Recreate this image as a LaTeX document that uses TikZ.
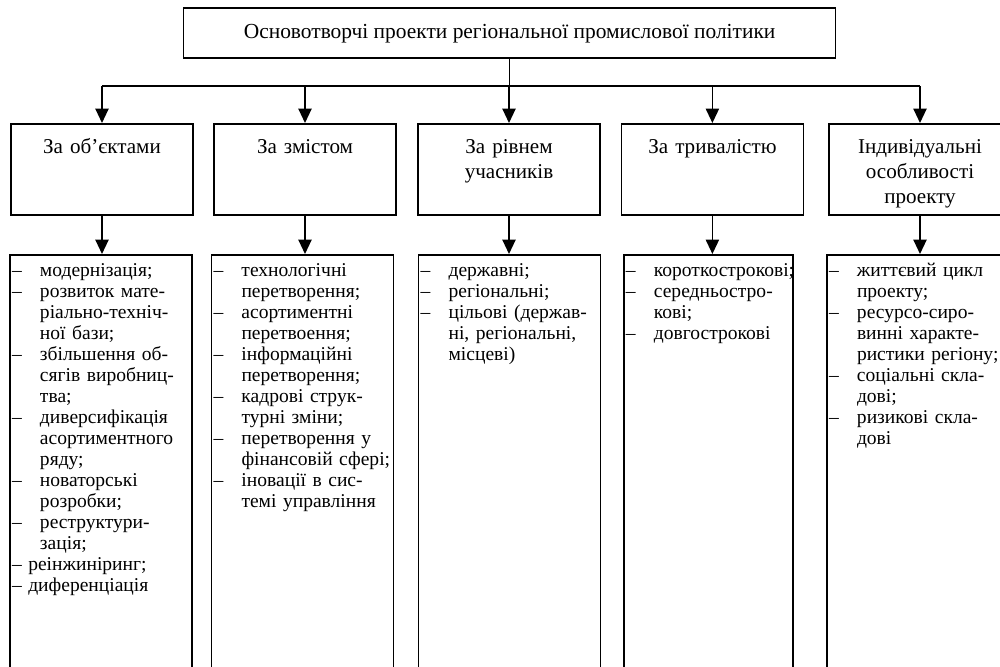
\documentclass[tikz,border=0pt]{standalone}
\usepackage{fontspec}
\setmainfont{Liberation Serif}
\usepackage{tikz}
\usetikzlibrary{arrows.meta}
\tikzset{
  topbox/.style={draw,line width=1.2pt,minimum width=16.3cm,minimum height=1.25cm,inner sep=0pt,font=\fontsize{15.25}{17}\selectfont},
  catbox/.style={draw,line width=1.2pt,anchor=north,minimum width=4.55cm,text width=4.3cm,align=center,inner xsep=0.1cm,inner ysep=0.4cm,text height=0.35cm,text depth=1.125cm,font=\fontsize{15}{17.8}\selectfont},
  listbox/.style={draw,line width=1.2pt,anchor=north,text width=4.45cm,align=left,inner xsep=0.05cm,inner ysep=0.2cm,text height=0.35cm,text depth=11cm,font=\fontsize{13.9}{14.9}\selectfont},
  downarrow/.style={line width=1.2pt,-{Triangle[length=0.36cm,width=0.33cm]}}
}
% list items: dash with hanging text, or dash with a plain space
\newcommand{\itm}[1]{\hangindent=0.7cm\hangafter=1\noindent\makebox[0.7cm][l]{--}#1\par}
\newcommand{\itmb}[1]{\noindent --\ #1\par}

\begin{document}
\begin{tikzpicture}
    \useasboundingbox (0,0) rectangle (25,-16.65);
    \node[topbox] (top) at (12.74,-0.83) {Основотворчі проекти регіональної промислової політики};
    \coordinate (bus) at (0,-2.15);
    % categories
    \node[catbox] (c1) at (2.55,-3.075) {За об’єктами};
    \node[catbox] (c2) at (7.625,-3.075) {За змістом};
    \node[catbox] (c3) at (12.725,-3.075) {За рівнем\\учасників};
    \node[catbox] (c4) at (17.81,-3.075) {За тривалістю};
    \node[catbox] (c5) at (23.0,-3.075) {Індивідуальні\\особливості\\проекту};
    % lists
    \node[listbox] (l1) at (2.525,-6.35) {%
      \itm{модернізація;}
      \itm{розвиток мате-\newline ріально-техніч-\newline ної бази;}
      \itm{збільшення об-\newline сягів виробниц-\newline тва;}
      \itm{диверсифікація\newline асортиментного\newline ряду;}
      \itm{новаторські\newline розробки;}
      \itm{реструктури-\newline зація;}
      \itmb{реінжиніринг;}
      \itmb{диференціація}};
    \node[listbox] (l2) at (7.5625,-6.35) {%
      \itm{технологічні\newline перетворення;}
      \itm{асортиментні\newline перетвоення;}
      \itm{інформаційні\newline перетворення;}
      \itm{кадрові струк-\newline турні зміни;}
      \itm{перетворення у\newline фінансовій сфері;}
      \itm{іновації в сис-\newline темі управління}};
    \node[listbox] (l3) at (12.74,-6.35) {%
      \itm{державні;}
      \itm{регіональні;}
      \itm{цільові (держав-\newline ні, регіональні,\newline місцеві)}};
    \node[listbox,text width=4.125cm] (l4) at (17.71,-6.35) {%
      \itm{короткострокові;}
      \itm{середньостро-\newline кові;}
      \itm{довгострокові}};
    \node[listbox] (l5) at (22.95,-6.35) {%
      \itm{життєвий цикл\newline проекту;}
      \itm{ресурсо-сиро-\newline винні характе-\newline ристики регіону;}
      \itm{соціальні скла-\newline дові;}
      \itm{ризикові скла-\newline дові}};
    % connectors
    \draw[line width=1.2pt] (top.south) -- (top.south |- bus);
    \draw[line width=1.2pt] (c1.north |- bus) -- (c5.north |- bus);
    \foreach \i in {1,...,5}
      \draw[downarrow] (c\i.north |- bus) -- (c\i.north);
    \foreach \i in {1,...,5}
      \draw[downarrow] (c\i.south) -- (c\i.south |- l\i.north);
\end{tikzpicture}
\end{document}
